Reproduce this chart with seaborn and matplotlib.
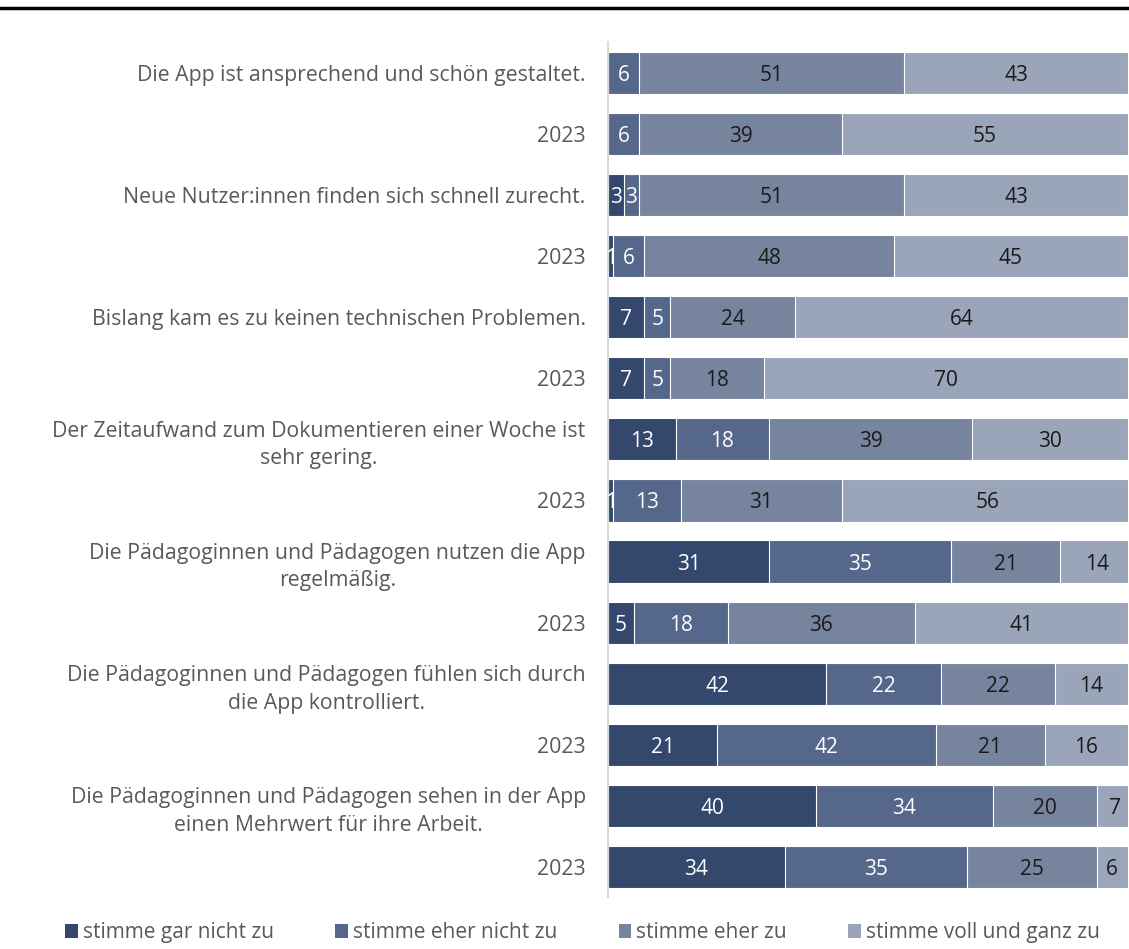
import numpy as np
import pandas as pd
import matplotlib
matplotlib.use("Agg")
import matplotlib.pyplot as plt
from matplotlib.lines import Line2D
from matplotlib.patches import Patch
import seaborn as sns

sns.set_theme(style="white")
plt.rcParams['font.family'] = ['Open Sans', 'DejaVu Sans']

labels = [
    "Die App ist ansprechend und schön gestaltet.",
    "2023",
    "Neue Nutzer:innen finden sich schnell zurecht.",
    "2023",
    "Bislang kam es zu keinen technischen Problemen.",
    "2023",
    "Der Zeitaufwand zum Dokumentieren einer Woche ist\nsehr gering.",
    "2023",
    "Die Pädagoginnen und Pädagogen nutzen die App\nregelmäßig.",
    "2023",
    "Die Pädagoginnen und Pädagogen fühlen sich durch\ndie App kontrolliert.",
    "2023",
    "Die Pädagoginnen und Pädagogen sehen in der App\neinen Mehrwert für ihre Arbeit.",
    "2023",
]
series = ["stimme gar nicht zu", "stimme eher nicht zu", "stimme eher zu", "stimme voll und ganz zu"]
gar_nicht = [0, 0, 3, 1, 7, 7, 13, 1, 31, 5, 42, 21, 40, 34]
eher_nicht = [6, 6, 3, 6, 5, 5, 18, 13, 35, 18, 22, 42, 34, 35]
eher = [51, 39, 51, 48, 24, 18, 39, 31, 21, 36, 22, 21, 20, 25]
voll = [43, 55, 43, 45, 64, 70, 30, 56, 14, 41, 14, 16, 7, 6]
colors = ["#34486e", "#55678a", "#77849e", "#9aa5ba"]
text_colors = ["white", "white", "#1a1a1a", "#1a1a1a"]

vals = np.array([gar_nicht, eher_nicht, eher, voll], dtype=float)
cum = vals.cumsum(axis=0)
rows = np.arange(len(labels))

fig = plt.figure(figsize=(11.29, 9.49), dpi=100)
ax = fig.add_axes([0.5385, 0.0543, 0.4605, 0.901])

# draw cumulative bars from the largest down so smaller ones sit on top
for i in range(3, -1, -1):
    df = pd.DataFrame({"row": rows, "value": cum[i]})
    sns.barplot(data=df, x="value", y="row", orient="y", order=list(rows),
                color=colors[i], saturation=1, width=0.69,
                edgecolor="white", linewidth=0.8, ax=ax)

for i in range(4):
    for r in rows:
        v = vals[i, r]
        if v <= 0:
            continue
        ax.text(cum[i, r] - v / 2, r, f"{int(v)}", ha="center", va="center_baseline",
                fontsize=15, color=text_colors[i])

ax.set_xlim(0, 100)
ax.set_ylim(13.5, -0.5)
ax.set_xlabel("")
ax.set_ylabel("")
ax.set_xticks([])
ax.set_yticks(rows)
ax.set_yticklabels(labels, fontsize=15.3, color="#595959", multialignment="center",
                   linespacing=1.4)
ax.tick_params(axis="y", length=0, pad=16)
for s in ["top", "right", "bottom"]:
    ax.spines[s].set_visible(False)
ax.spines["left"].set_color("#d9d9d9")
ax.spines["left"].set_linewidth(1.5)

fig.add_artist(Line2D([0, 1], [0.9915, 0.9915], color="black", linewidth=2.5,
                      transform=fig.transFigure))

handles = [Patch(facecolor=c, edgecolor="none") for c in colors]
leg = fig.legend(handles, series, loc="center", bbox_to_anchor=(0.516, 0.017),
                 ncol=4, frameon=False, fontsize=15, handlelength=0.6,
                 handleheight=0.6, handletextpad=0.25, columnspacing=2.95)
for t in leg.get_texts():
    t.set_color("#595959")

fig.savefig("out.png", dpi=100)
